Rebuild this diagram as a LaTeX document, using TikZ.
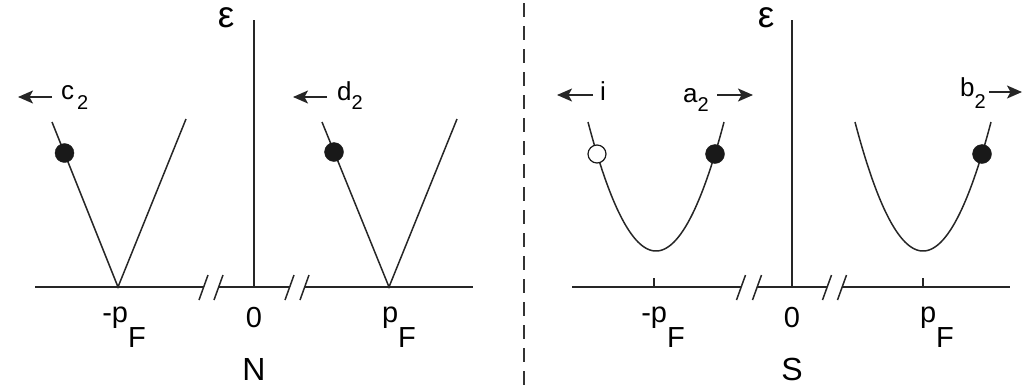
\documentclass[tikz,border=0pt]{standalone}
\usepackage{fontspec}
\setmainfont{Liberation Sans}
\usetikzlibrary{arrows.meta}
\newcommand\axisbrk[1]{\draw[ln] (#1-4.5,300) -- (#1+4.5,275);}
\newcommand\sbs[2]{\raisebox{-#1pt}{\fontsize{20}{22}\selectfont #2}}
\begin{document}
\begin{tikzpicture}[x=1pt,y=-1pt,
  ln/.style={line width=1.5pt, draw=black!85},
  arr/.style={line width=1.5pt, draw=black!85, -{Stealth[length=15pt,width=13pt,inset=3.5pt]}},
  fdot/.style={circle, fill=black!90, draw=black!90, inner sep=0pt, minimum size=19pt},
  odot/.style={circle, fill=white, draw=black!90, line width=1.2pt, inner sep=0pt, minimum size=18pt},
  axlbl/.style={font=\fontsize{29}{32}\selectfont, inner sep=0pt, anchor=base},
  big/.style={font=\fontsize{32}{35}\selectfont, inner sep=0pt, anchor=base},
  eps/.style={font=\fontsize{37}{40}\selectfont, inner sep=0pt},
  stl/.style={font=\fontsize{26}{29}\selectfont, inner sep=0pt, anchor=base west},
]
\useasboundingbox (0,0) rectangle (1024,386);

% ---------------- N panel ----------------
\draw[ln] (35,287) -- (203.5,287);
\draw[ln] (218.5,287) -- (289.5,287);
\draw[ln] (304.5,287) -- (473,287);
\axisbrk{203.5}\axisbrk{218.5}\axisbrk{289.5}\axisbrk{304.5}
\draw[ln] (254,20) -- (254,287);
\node[eps] (epsN) at (226,18) {ε};

\coordinate (v1) at (118,287);
\coordinate (v1l) at (52,122);
\coordinate (v1r) at (186,119);
\draw[ln] (v1l) -- (v1) -- (v1r);
\node[fdot] (dc) at (64.5,153) {};

\coordinate (v2) at (389,287);
\coordinate (v2l) at (322,122);
\coordinate (v2r) at (457,119);
\draw[ln] (v2l) -- (v2) -- (v2r);
\node[fdot] (dd) at (334,152) {};

\node[axlbl] (mpN) at (124,322) {-p\raisebox{-25pt}{F}};
\node[axlbl] (pN) at (399,322) {p\raisebox{-25pt}{F}};
\node[axlbl] (zN) at (254,327) {0};
\node[big] (N) at (254,380) {N};

\node[stl] (c2) at (61,99) {c\hspace{3pt}\sbs{10}{2}};
\coordinate (c2t) at (52,97);
\coordinate (c2h) at (18,97);
\draw[arr] (c2t) -- (c2h);

\node[stl] (d2) at (337,100) {d\sbs{9}{2}};
\coordinate (d2t) at (327,97);
\coordinate (d2h) at (293,97);
\draw[arr] (d2t) -- (d2h);

% ---------------- divider ----------------
\coordinate (dvt) at (524,3);
\coordinate (dvb) at (524,386);
\draw[line width=1.2pt, draw=black!80, dash pattern=on 14pt off 9pt] (dvt) -- (dvb);

% ---------------- S panel ----------------
\draw[ln] (572,287) -- (741,287);
\draw[ln] (757,287) -- (827,287);
\draw[ln] (842,287) -- (1010,287);
\axisbrk{741}\axisbrk{757}\axisbrk{827}\axisbrk{842}
\draw[ln] (792,20) -- (792,287);
\node[eps] (epsS) at (766,18) {ε};

\draw[ln] (654,287) -- (654,278);
\draw[ln] (923,287) -- (923,278);

\draw[ln] plot[domain=-68:68, samples=80, smooth] ({656+\x},{251-0.0279*\x*\x});
\draw[ln] plot[domain=-68:68, samples=80, smooth] ({923+\x},{251-0.0279*\x*\x});

\node[odot] (oi) at (597,154) {};
\node[fdot] (da) at (715,154) {};
\node[fdot] (db) at (982,154) {};

\node[axlbl] (mpS) at (663,322) {-p\raisebox{-25pt}{F}};
\node[axlbl] (pS) at (937,322) {p\raisebox{-25pt}{F}};
\node[axlbl] (zS) at (792,327) {0};
\node[big] (S) at (792,380) {S};

\node[stl] (il) at (600,100) {i};
\coordinate (it) at (593,95);
\coordinate (ih) at (557,95);
\draw[arr] (it) -- (ih);

\node[stl] (a2) at (683,102) {a\sbs{9}{2}};
\coordinate (a2t) at (717,95);
\coordinate (a2h) at (753,95);
\draw[arr] (a2t) -- (a2h);

\node[stl] (b2) at (960,96) {b\sbs{12}{2}};
\coordinate (b2t) at (989,92);
\coordinate (b2h) at (1022,92);
\draw[arr] (b2t) -- (b2h);
\end{tikzpicture}
\end{document}
